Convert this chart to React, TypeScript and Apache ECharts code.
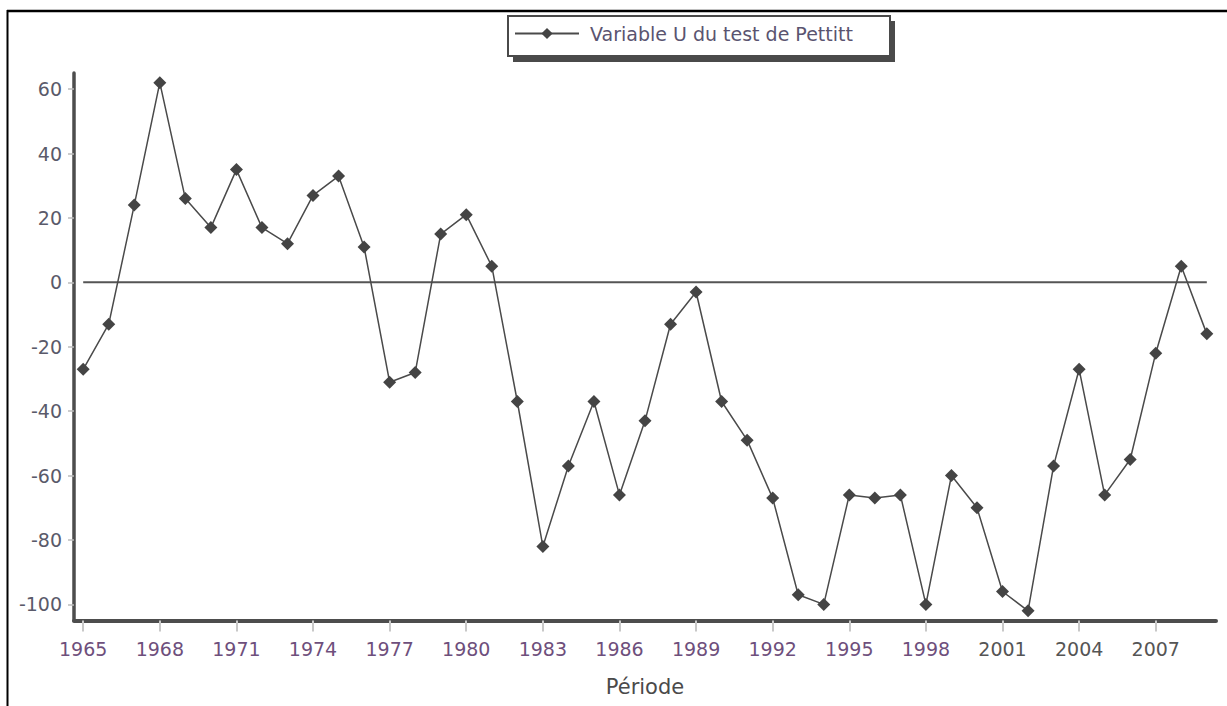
import React, { useEffect, useRef } from "react";
import * as echarts from "echarts";

const years: number[] = [
  1965, 1966, 1967, 1968, 1969, 1970, 1971, 1972, 1973, 1974, 1975, 1976, 1977, 1978, 1979,
  1980, 1981, 1982, 1983, 1984, 1985, 1986, 1987, 1988, 1989, 1990, 1991, 1992, 1993, 1994,
  1995, 1996, 1997, 1998, 1999, 2000, 2001, 2002, 2003, 2004, 2005, 2006, 2007, 2008, 2009,
];
const uValues: number[] = [
  -27, -13, 24, 62, 26, 17, 35, 17, 12, 27, 33, 11, -31, -28, 15,
  21, 5, -37, -82, -57, -37, -66, -43, -13, -3, -37, -49, -67, -97, -100,
  -66, -67, -66, -100, -60, -70, -96, -102, -57, -27, -66, -55, -22, 5, -16,
];
const xTickLabels: number[] = [1965, 1968, 1971, 1974, 1977, 1980, 1983, 1986, 1989, 1992, 1995, 1998, 2001, 2004, 2007];
const yTickLabels: number[] = [-100, -80, -60, -40, -20, 0, 20, 40, 60];
const seriesName = "Variable U du test de Pettitt";
const xAxisName = "Période";

const FONT = "DejaVu Sans";

export default function App() {
  const ref = useRef<HTMLDivElement>(null);
  useEffect(() => {
    if (!ref.current) return;
    const chart = echarts.init(ref.current, undefined, { renderer: "svg" });
    const mainData = years.map((y, i) => [y, uValues[i]]);
    const zeroData = years.map((y) => [y, 0]);
    chart.setOption({
      animation: false,
      backgroundColor: "#ffffff",
      grid: { left: 74, right: 11, top: 73, bottom: 85.5, containLabel: false, outerBoundsMode: "none" },
      legend: {
        data: [seriesName],
        left: 514,
        top: 24,
        padding: 0,
        itemWidth: 64,
        itemHeight: 14,
        selectedMode: false,
        textStyle: { fontFamily: FONT, fontSize: 19, color: "#5a5470", padding: [0, 0, 0, 6] },
      },
      xAxis: {
        type: "value",
        min: 1964.64,
        max: 2009.36,
        splitLine: { show: false },
        axisLine: { show: true, onZero: false, lineStyle: { color: "#4d4d4d", width: 4 } },
        axisTick: { show: true, length: 11, customValues: xTickLabels, lineStyle: { color: "#c8c8c8", width: 2 } },
        axisLabel: {
          customValues: xTickLabels,
          margin: 19,
          fontFamily: FONT,
          fontSize: 19,
          color: (v: number) => (v <= 1998 ? "#6e4f7c" : "#555555"),
          formatter: (v: number) => String(v),
        },
        name: xAxisName,
        nameLocation: "middle",
        nameGap: 56,
        nameTextStyle: { fontFamily: FONT, fontSize: 21, color: "#4a4a4a" },
      },
      yAxis: {
        type: "value",
        min: -105,
        max: 65,
        splitLine: { show: false },
        axisLine: { show: true, onZero: false, lineStyle: { color: "#4d4d4d", width: 3.5 } },
        axisTick: { show: true, length: 6, customValues: yTickLabels, lineStyle: { color: "#bbbbbb", width: 1.5 } },
        axisLabel: {
          customValues: yTickLabels,
          margin: 12,
          fontFamily: FONT,
          fontSize: 19,
          color: "#5a5a6a",
        },
      },
      graphic: [
        { type: "rect", z: 0, shape: { x: 513, y: 21, width: 382, height: 41 }, style: { fill: "#4a4a4a" } },
        { type: "rect", z: 1, shape: { x: 508, y: 16, width: 382, height: 40 }, style: { fill: "#ffffff", stroke: "#4a4a4a", lineWidth: 2 } },
        { type: "line", z: 1, shape: { x1: 7, y1: 11, x2: 1227, y2: 11 }, style: { stroke: "#000000", lineWidth: 2.5 } },
        { type: "line", z: 1, shape: { x1: 7.5, y1: 10, x2: 7.5, y2: 706 }, style: { stroke: "#000000", lineWidth: 2 } },
      ],
      series: [
        {
          name: "zero",
          type: "line",
          data: zeroData,
          showSymbol: false,
          symbol: "none",
          z: 1,
          silent: true,
          lineStyle: { color: "#555555", width: 2 },
        },
        {
          name: seriesName,
          type: "line",
          data: mainData,
          symbol: "diamond",
          symbolSize: 13,
          z: 3,
          itemStyle: { color: "#444444" },
          lineStyle: { color: "#4a4a4a", width: 1.5 },
        },
      ],
    });
    return () => chart.dispose();
  }, []);
  return (
    <div
      ref={ref}
      style={{ position: "fixed", left: 0, top: 0, width: 1227, height: 706, background: "#fff" }}
    />
  );
}
